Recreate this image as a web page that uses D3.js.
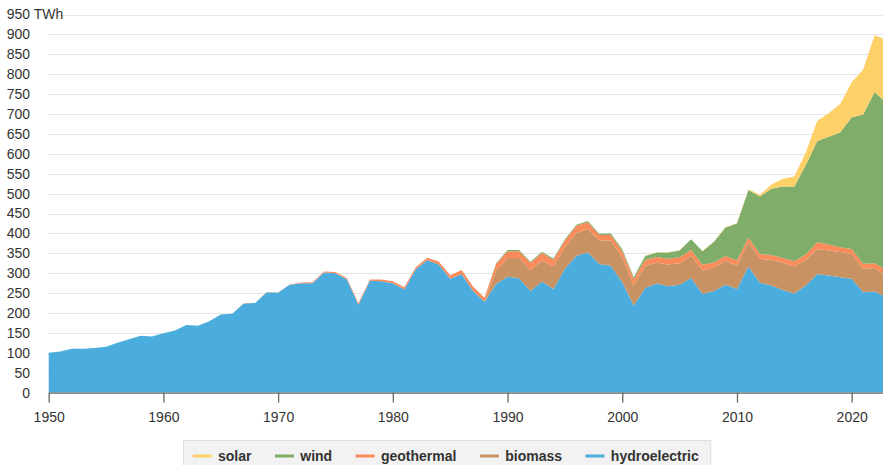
<!DOCTYPE html>
<html>
<head>
<meta charset="utf-8">
<script src="https://cdn.jsdelivr.net/npm/d3@7"></script>
<style>
  html, body { margin: 0; padding: 0; background: #fff; }
  svg { display: block; font-family: "Liberation Sans", Arial, Helvetica, sans-serif; }
</style>
</head>
<body>
<svg id="chart" width="883" height="465"></svg>
<script>
const years = d3.range(1950, 2024);

const hydroelectric = [
  100, 103, 110, 110, 112, 115, 125, 134, 143, 141,
  149, 156, 170, 168, 179, 196, 198, 224, 225, 252,
  251, 271, 275, 275, 302, 300, 284, 221, 281, 280,
  275, 259, 310, 333, 322, 286, 298, 255, 228, 273,
  291, 287, 255, 279, 260, 311, 344, 352, 323, 319,
  277, 219, 263, 274, 267, 271, 288, 248, 255, 271,
  260, 317, 276, 269, 258, 249, 269, 298, 294, 290,
  286, 252, 254, 240
];
const biomass = [
  0, 0, 0, 0, 0, 0, 0, 0, 0, 0,
  0, 0, 0, 0, 0, 0, 0, 0, 0, 0,
  0, 0, 0, 0, 0, 0, 0, 0, 0, 0,
  0, 0, 0, 0, 0, 0, 0, 0, 0, 34,
  47, 51, 53, 53, 57, 54, 57, 59, 59, 63,
  63, 50, 56, 52, 55, 54, 56, 59, 60, 60,
  59, 61, 60, 64, 68, 68, 64, 63, 63, 63,
  62, 59, 59, 54
];
const geothermal = [
  0, 0, 0, 0, 0, 0, 0, 0, 0, 0,
  0.1, 0.1, 0.1, 0.2, 0.2, 0.2, 0.3, 0.3, 0.4, 0.5,
  0.5, 0.5, 1.5, 2, 2.5, 3.2, 3.6, 3.6, 3, 3.9,
  5, 5.7, 4.8, 6, 7.7, 9, 10, 10.8, 10.3, 16,
  17, 17, 18, 19, 17, 17, 18, 17, 14, 14,
  15, 16, 14, 15, 14, 15, 14, 14, 12, 12,
  13, 12, 12, 13, 12, 13, 14, 17, 15, 12,
  13, 13, 12, 14
];
const wind = [
  0, 0, 0, 0, 0, 0, 0, 0, 0, 0,
  0, 0, 0, 0, 0, 0, 0, 0, 0, 0,
  0, 0, 0, 0, 0, 0, 0, 0, 0, 0,
  0, 0, 0, 0, 0, 0, 0, 0, 0, 2,
  3, 3, 3, 3, 3, 3, 3, 3, 3, 4,
  5, 5, 10, 11, 16, 17, 27, 34, 52, 72,
  93, 119, 145, 166, 180, 188, 225, 254, 271, 289,
  331, 375, 430, 421
];
const solar = [
  0, 0, 0, 0, 0, 0, 0, 0, 0, 0,
  0, 0, 0, 0, 0, 0, 0, 0, 0, 0,
  0, 0, 0, 0, 0, 0, 0, 0, 0, 0,
  0, 0, 0, 0, 0, 0, 0, 0, 0, 0,
  0, 0, 0, 0, 0, 0, 0, 0, 0, 0,
  0.5, 0.5, 0.6, 0.5, 0.6, 0.5, 0.5, 0.6, 0.8, 0.8,
  1.2, 1.8, 4, 11, 19, 25, 32, 51, 59, 71,
  88, 113, 143, 158
];

const seriesKeys = ["hydroelectric", "biomass", "geothermal", "wind", "solar"];
const legendKeys = ["solar", "wind", "geothermal", "biomass", "hydroelectric"];
const yTicks = d3.range(0, 951, 50);
const xTicks = [1950, 1960, 1970, 1980, 1990, 2000, 2010, 2020];
const unitLabel = "TWh";

const colors = {
  solar: "#fdd168",
  wind: "#80ad6a",
  geothermal: "#fa8b5b",
  biomass: "#c99262",
  hydroelectric: "#4badde"
};

const seriesMap = { hydroelectric, biomass, geothermal, wind, solar };
const table = years.map((yr, i) => {
  const row = { year: yr };
  seriesKeys.forEach(k => row[k] = seriesMap[k][i]);
  return row;
});

const svg = d3.select("#chart");
const x = d3.scaleLinear().domain([1950, 2023]).range([48.7, 886.1]);
const y = d3.scaleLinear().domain([0, 950]).range([392.6, 14.5]);

// gridlines
svg.append("g").selectAll("line")
  .data(yTicks.filter(d => d > 0))
  .join("line")
  .attr("x1", 48).attr("x2", 883)
  .attr("y1", d => Math.round(y(d)) + 0.5)
  .attr("y2", d => Math.round(y(d)) + 0.5)
  .attr("stroke", "#e6e6e6")
  .attr("stroke-width", 1.2);

// stacked areas
const stack = d3.stack().keys(seriesKeys);
const stacked = stack(table);
const area = d3.area()
  .x(d => x(d.data.year))
  .y0(d => y(d[0]))
  .y1(d => y(d[1]));

svg.append("g").selectAll("path")
  .data(stacked)
  .join("path")
  .attr("fill", d => colors[d.key])
  .attr("d", area);

// y labels
const yLab = svg.append("g")
  .attr("font-size", 14)
  .attr("fill", "#333");
yTicks.forEach(t => {
  if (t === 950) {
    const tmp = yLab.append("text").text(String(t)).attr("visibility", "hidden");
    const w = tmp.node().getComputedTextLength();
    tmp.remove();
    yLab.append("text")
      .attr("x", 30 - w)
      .attr("y", y(t))
      .attr("dy", "0.35em")
      .attr("text-anchor", "start")
      .text(t + " " + unitLabel);
  } else {
    yLab.append("text")
      .attr("x", 30)
      .attr("y", y(t))
      .attr("dy", "0.35em")
      .attr("text-anchor", "end")
      .text(t);
  }
});

// x axis
const xAxis = d3.axisBottom(x)
  .tickValues(xTicks)
  .tickFormat(d3.format("d"))
  .tickSize(10)
  .tickSizeOuter(0);
const gx = svg.append("g")
  .attr("transform", `translate(0,${y(0)})`)
  .call(xAxis);
gx.select(".domain").attr("stroke", "#666").attr("stroke-width", 1.3);
gx.selectAll(".tick line").attr("stroke", "#666").attr("stroke-width", 1.3);
gx.selectAll(".tick text")
  .attr("font-size", 14)
  .attr("font-family", "Liberation Sans, Arial, sans-serif")
  .attr("fill", "#333")
  .attr("y", 29)
  .attr("dy", 0);

// legend
const lg = svg.append("g");
const box = lg.append("rect")
  .attr("x", 183.5).attr("y", 440.5)
  .attr("height", 30)
  .attr("fill", "#f2f2f2")
  .attr("stroke", "#dedede");
let cx = 192.7;
legendKeys.forEach(k => {
  lg.append("line")
    .attr("x1", cx).attr("x2", cx + 19)
    .attr("y1", 456).attr("y2", 456)
    .attr("stroke", colors[k])
    .attr("stroke-width", 3);
  const t = lg.append("text")
    .attr("x", cx + 25.3)
    .attr("y", 456)
    .attr("dy", "0.35em")
    .attr("font-size", 14)
    .attr("font-weight", "bold")
    .attr("fill", "#333")
    .text(k);
  cx = cx + 25.3 + t.node().getComputedTextLength() + 23.5;
});
box.attr("width", cx - 23.5 + 12 - 183.5);
</script>
</body>
</html>
